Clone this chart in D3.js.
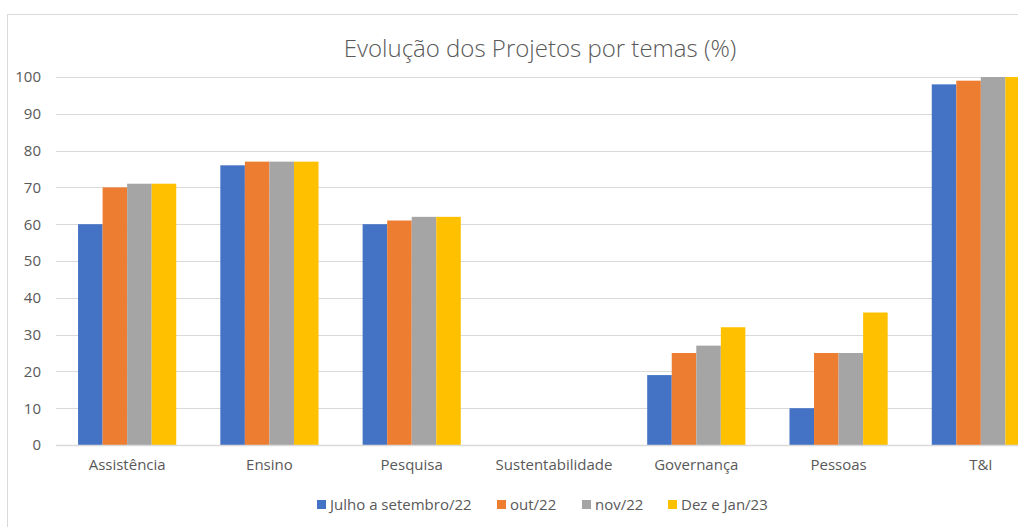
<!DOCTYPE html>
<html><head><meta charset="utf-8">
<script src="https://cdn.jsdelivr.net/npm/d3@7"></script>
<style>body{margin:0;background:#fff;overflow:hidden}svg{display:block}</style>
</head><body>
<script>
const categories = ["Assistência","Ensino","Pesquisa","Sustentabilidade","Governança","Pessoas","T&I"];
const seriesNames = ["Julho a setembro/22","out/22","nov/22","Dez e Jan/23"];
const julSet22 = [60,76,60,0,19,10,98];
const out22 = [70,77,61,0,25,25,99];
const nov22 = [71,77,62,0,27,25,100];
const dezJan23 = [71,77,62,0,32,36,100];
const yTicks = [0,10,20,30,40,50,60,70,80,90,100];
const colors = ["#4472C4","#ED7D31","#A5A5A5","#FFC000"];
const seriesValues = [julSet22,out22,nov22,dezJan23];

const W=1018,H=527;
const svg=d3.select("body").append("svg").attr("width",W).attr("height",H);
const font="'Open Sans', 'Noto Sans', sans-serif";
svg.append("rect").attr("x",7.5).attr("y",14.5).attr("width",1100).attr("height",600)
  .attr("fill","#fff").attr("stroke","#D9D9D9").attr("stroke-width",1);

const x=d3.scaleBand().domain(categories).range([56,1052]).paddingInner(0.31).paddingOuter(0.155);
const xs=d3.scaleBand().domain(seriesNames).range([0,x.bandwidth()]);
const y=d3.scaleLinear().domain([0,100]).range([445,77]);

// grid
svg.append("g").selectAll("line").data(yTicks.filter(d=>d>0)).join("line")
  .attr("x1",56).attr("x2",1100).attr("y1",d=>Math.round(y(d))+0.5).attr("y2",d=>Math.round(y(d))+0.5)
  .attr("stroke","#D9D9D9").attr("stroke-width",1);

// bars
const data=[];
categories.forEach((c,i)=>seriesNames.forEach((s,j)=>data.push({c,s,j,v:seriesValues[j][i]})));
svg.append("g").selectAll("rect").data(data).join("rect")
  .attr("x",d=>x(d.c)+xs(d.s)).attr("width",xs.bandwidth())
  .attr("y",d=>y(d.v)).attr("height",d=>y(0)-y(d.v)).attr("fill",d=>colors[d.j]);

// baseline
svg.append("line").attr("x1",56).attr("x2",1100).attr("y1",y(0)+0.5).attr("y2",y(0)+0.5)
  .attr("stroke","#D9D9D9").attr("stroke-width",1.3);

// y axis
const ya=svg.append("g").attr("transform","translate(41,0)")
  .call(d3.axisLeft(y).tickValues(yTicks).tickSize(0).tickPadding(0));
ya.select(".domain").remove();
ya.selectAll("text").attr("font-family",font).attr("font-size",15).attr("fill","#595959");

// x axis
const xa=svg.append("g").attr("transform",`translate(0,${y(0)})`)
  .call(d3.axisBottom(x).tickSize(0).tickPadding(14));
xa.select(".domain").remove();
xa.selectAll("text").attr("font-family",font).attr("font-size",15).attr("fill","#595959");

// title
svg.append("text").attr("x",540).attr("y",57).attr("text-anchor","middle")
  .attr("font-family",font).attr("font-size",24).attr("font-weight",300).attr("fill","#595959")
  .text("Evolução dos Projetos por temas (%)");

// legend
const legX=[317,497,582,668];
const lg=svg.append("g").selectAll("g").data(seriesNames).join("g")
  .attr("transform",(d,i)=>`translate(${legX[i]},505)`);
lg.append("rect").attr("x",0).attr("y",-5).attr("width",9).attr("height",9).attr("fill",(d,i)=>colors[i]);
lg.append("text").attr("x",13).attr("y",0).attr("dy","0.35em")
  .attr("font-family",font).attr("font-size",15).attr("fill","#595959").text(d=>d);
</script>
</body></html>
